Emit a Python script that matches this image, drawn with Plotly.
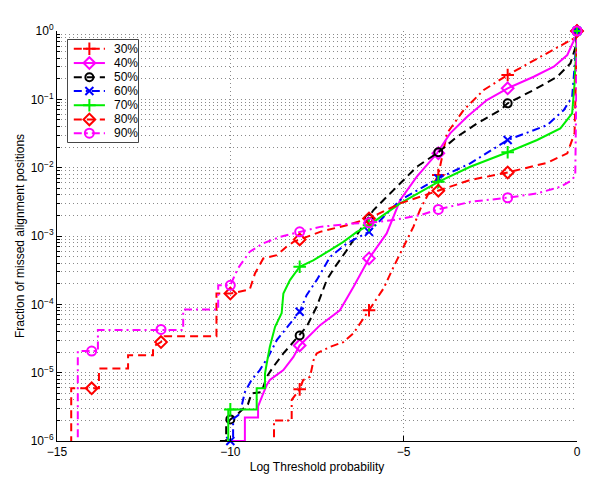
import plotly.graph_objects as go

# ---------------- data ----------------
labels = ["30%", "40%", "50%", "60%", "70%", "80%", "90%"]

x30 = [-8.74, -8.74, -8.23, -8.23, -8.0, -7.9, -7.7, -7.6, -7.51, -7.12, -6.74, -6.45, -6.0, -5.58, -5.29, -5.0, -4.72, -4.52, -4.0, -3.75, -3.27, -2.69, -2.0, -1.05, -0.09, 0.0]
y30 = [1e-7, 2.0e-6, 2.0e-6, 4.0e-6, 5.7e-6, 7.8e-6, 8.7e-6, 1.52e-5, 1.91e-5, 2.39e-5, 2.8e-5, 3.75e-5, 8.2e-5, 1.71e-4, 3.54e-4, 6.95e-4, 1.36e-3, 2.48e-3, 7.8e-3, 0.0318, 0.0697, 0.137, 0.227, 0.42, 0.78, 1.0]
mx30 = [-8, -6, -4, -2, 0]
my30 = [5.7e-6, 8.2e-5, 7.8e-3, 0.227, 1.0]

x40 = [-10.0, -10.0, -9.58, -9.58, -9.2, -9.2, -9.05, -8.95, -8.86, -8.47, -8.18, -8.0, -7.41, -6.84, -6.45, -6.0, -5.49, -5.1, -4.62, -4.04, -3.66, -3.17, -2.6, -2.0, -1.25, -0.67, -0.28, -0.04, 0.0]
y40 = [1e-7, 1e-6, 1e-6, 2.2e-6, 2.2e-6, 3.2e-6, 4.96e-6, 6.6e-6, 7.8e-6, 1.09e-5, 1.7e-5, 2.5e-5, 4.96e-5, 8.2e-5, 1.8e-4, 4.7e-4, 1.09e-3, 3.36e-3, 7.4e-3, 0.0162, 0.0318, 0.0556, 0.0977, 0.145, 0.214, 0.3, 0.445, 0.826, 1.0]
mx40 = [-8, -6, -4, -2, 0]
my40 = [2.5e-5, 4.7e-4, 0.0162, 0.145, 1.0]

x50 = [-10.3, -10.12, -10.12, -10.0, -9.82, -9.49, -9.39, -9.1, -8.95, -8.76, -8.47, -8.0, -7.8, -7.51, -7.22, -6.98, -6.64, -6.26, -5.87, -5.58, -5.1, -4.62, -4.0, -3.46, -2.88, -2.21, -2.0, -1.25, -0.57, -0.19, -0.04, 0.0]
y50 = [1e-6, 1e-6, 1.7e-6, 2.07e-6, 2.39e-6, 3.46e-6, 4.96e-6, 5.2e-6, 8.7e-6, 1.22e-5, 1.91e-5, 3.5e-5, 4.7e-5, 9.2e-5, 2.26e-4, 3.54e-4, 6.2e-4, 1.22e-3, 2.4e-3, 3.36e-3, 5.9e-3, 0.0103, 0.0168, 0.0283, 0.0445, 0.0697, 0.0873, 0.137, 0.214, 0.336, 0.589, 1.0]
mx50 = [-10, -8, -6, -4, -2, 0]
my50 = [2.07e-6, 3.5e-5, 1.8e-3, 0.0168, 0.0873, 1.0]

x60 = [-9.92, -9.92, -9.77, -9.68, -9.58, -9.39, -9.15, -8.91, -8.66, -8.0, -7.8, -7.51, -7.12, -6.64, -6.0, -5.1, -4.0, -3.08, -2.0, -0.86, -0.38, -0.14, -0.07, 0.0]
y60 = [1e-7, 2.1e-6, 2.39e-6, 3.16e-6, 5.2e-6, 7.8e-6, 1.09e-5, 1.7e-5, 2.99e-5, 7.8e-5, 1.36e-4, 2.26e-4, 4.96e-4, 7.8e-4, 1.15e-3, 3.36e-3, 6.97e-3, 0.01156, 0.0254, 0.042, 0.0697, 0.109, 0.3, 1.0]
mx60 = [-10, -8, -6, -4, -2, 0]
my60 = [1e-6, 7.8e-5, 1.15e-3, 6.97e-3, 0.0254, 1.0]

x70 = [-10.06, -10.06, -9.24, -9.24, -9.0, -9.0, -8.95, -8.86, -8.71, -8.52, -8.47, -8.28, -8.0, -7.61, -7.12, -6.74, -6.35, -6.0, -5.1, -4.0, -3.08, -2.0, -1.15, -0.48, -0.14, -0.07, 0.0]
y70 = [1e-7, 2.9e-6, 2.9e-6, 5.9e-6, 5.9e-6, 9.7e-6, 1.36e-5, 2.39e-5, 4.7e-5, 7.4e-5, 1.44e-4, 2.26e-4, 3.55e-4, 4.4e-4, 6.2e-4, 8.2e-4, 1.15e-3, 1.44e-3, 3.0e-3, 6.2e-3, 0.0103, 0.0168, 0.0254, 0.0376, 0.0624, 0.171, 1.0]
mx70 = [-10, -8, -6, -4, -2, 0]
my70 = [2.9e-6, 3.55e-4, 1.44e-3, 6.2e-3, 0.0168, 1.0]

x80 = [-14.59, -14.59, -13.79, -13.79, -12.95, -12.95, -12.23, -12.23, -12.0, -11.9, -10.4, -10.4, -10.0, -9.44, -9.29, -9.05, -8.66, -8.38, -8.18, -8.0, -7.41, -6.64, -6.0, -5.1, -4.0, -3.08, -2.0, -0.86, -0.28, -0.07, 0.0]
y80 = [1e-7, 5.9e-6, 5.9e-6, 1.15e-5, 1.15e-5, 1.8e-5, 1.8e-5, 2.4e-5, 2.8e-5, 3.4e-5, 3.4e-5, 1.44e-4, 1.44e-4, 1.65e-4, 2.83e-4, 4.7e-4, 5.25e-4, 6.95e-4, 8.2e-4, 8.9e-4, 1.15e-3, 1.44e-3, 1.81e-3, 3.0e-3, 4.6e-3, 6.6e-3, 8.5e-3, 0.0118, 0.0162, 0.032, 1.0]
mx80 = [-14, -12, -10, -8, -6, -4, -2, 0]
my80 = [5.9e-6, 2.8e-5, 1.44e-4, 8.9e-4, 1.81e-3, 4.6e-3, 8.5e-3, 1.0]

x90 = [-14.4, -14.4, -13.82, -13.82, -11.36, -11.36, -10.35, -10.35, -10.0, -9.78, -9.44, -9.05, -8.57, -8.0, -7.41, -6.45, -6.0, -5.29, -4.52, -4.0, -3.08, -2.0, -1.15, -0.48, -0.14, -0.05, 0.0]
y90 = [1e-7, 2.07e-5, 2.07e-5, 4.2e-5, 4.2e-5, 8.4e-5, 8.4e-5, 1.9e-4, 1.9e-4, 3.36e-4, 5.9e-4, 7.8e-4, 9.7e-4, 1.15e-3, 1.36e-3, 1.53e-3, 1.56e-3, 1.71e-3, 2.02e-3, 2.45e-3, 3.16e-3, 3.63e-3, 4.2e-3, 5.25e-3, 6.6e-3, 7.8e-3, 1.0]
mx90 = [-14, -12, -10, -8, -6, -4, -2, 0]
my90 = [2.07e-5, 4.3e-5, 1.9e-4, 1.15e-3, 1.56e-3, 2.45e-3, 3.63e-3, 1.0]

x_ticks = [-15, -10, -5, 0]
x_ticktext = ["\u221215", "\u221210", "\u22125", "0"]
y_ticks = [1e-6, 1e-5, 1e-4, 1e-3, 1e-2, 1e-1, 1]
y_ticktext = ["10<sup>\u22126</sup>", "10<sup>\u22125</sup>", "10<sup>\u22124</sup>", "10<sup>\u22123</sup>",
              "10<sup>\u22122</sup>", "10<sup>\u22121</sup>", "10<sup>0</sup>"]

# ---------------- styles ----------------
DASH = "8px,5px"
DASHDOT = "8px,4px,2px,4px"
styles = [
    dict(color="#ff0000", dash=DASHDOT, symbol="cross-thin-open", size=9),
    dict(color="#ff00ff", dash="solid", symbol="diamond-open", size=9),
    dict(color="#000000", dash=DASH, symbol="circle-open", size=8),
    dict(color="#0000ff", dash=DASHDOT, symbol="x-thin-open", size=8),
    dict(color="#00ee00", dash="solid", symbol="cross-thin-open", size=9),
    dict(color="#ff0000", dash=DASH, symbol="diamond-open", size=9),
    dict(color="#ff00ff", dash=DASHDOT, symbol="circle-open", size=9),
]
series = [(x30, y30, mx30, my30), (x40, y40, mx40, my40), (x50, y50, mx50, my50),
          (x60, y60, mx60, my60), (x70, y70, mx70, my70), (x80, y80, mx80, my80),
          (x90, y90, mx90, my90)]

FONT = "Liberation Sans, Arial, sans-serif"
fig = go.Figure()

for (xs, ys, mxs, mys), st in zip(series, styles):
    fig.add_trace(go.Scatter(x=xs, y=ys, mode="lines", showlegend=False,
                             line=dict(color=st["color"], width=2, dash=st["dash"]),
                             hoverinfo="skip"))
    fig.add_trace(go.Scatter(x=mxs, y=mys, mode="markers", showlegend=False, cliponaxis=False,
                             marker=dict(symbol=st["symbol"], size=st["size"], color=st["color"],
                                         line=dict(color=st["color"], width=2)),
                             hoverinfo="skip"))

# ---------------- custom legend (own small subplot) ----------------
leg_rows = [9, 23.5, 38, 52, 66.5, 81, 95]
fig.add_trace(go.Scatter(x=[-0.5, 72.5, 72.5, -0.5, -0.5], y=[-0.5, -0.5, 104.5, 104.5, -0.5],
                         xaxis="x2", yaxis="y2", mode="lines", fill="toself",
                         fillcolor="white", line=dict(color="#444444", width=1),
                         showlegend=False, hoverinfo="skip"))
for lab, st, ry in zip(labels, styles, leg_rows):
    fig.add_trace(go.Scatter(x=[6, 38], y=[ry, ry], xaxis="x2", yaxis="y2", mode="lines",
                             line=dict(color=st["color"], width=2, dash=st["dash"]),
                             showlegend=False, hoverinfo="skip"))
    fig.add_trace(go.Scatter(x=[22], y=[ry], xaxis="x2", yaxis="y2", mode="markers",
                             marker=dict(symbol=st["symbol"], size=st["size"], color=st["color"],
                                         line=dict(color=st["color"], width=2)),
                             showlegend=False, hoverinfo="skip"))
    fig.add_annotation(x=45, y=ry, xref="x2", yref="y2", text=lab, showarrow=False,
                       xanchor="left", yanchor="middle",
                       font=dict(family=FONT, size=12, color="black"))

grid_color = "#8a8a8a"
fig.update_layout(
    width=600, height=479,
    margin=dict(l=57, r=23, t=31, b=38, autoexpand=False),
    paper_bgcolor="white", plot_bgcolor="white",
    showlegend=False,
    font=dict(family=FONT, size=12, color="black"),
    xaxis=dict(range=[-15, 0], tickmode="array", tickvals=x_ticks, ticktext=x_ticktext,
               automargin=False,
               showgrid=True, gridcolor=grid_color, griddash="1px,3px", gridwidth=1,
               zeroline=False, showline=True, linecolor="black", linewidth=1,
               ticks="inside", ticklen=5, tickcolor="black",
               tickfont=dict(size=12),
               title=dict(text="Log Threshold probability", font=dict(size=12), standoff=4)),
    yaxis=dict(type="log", range=[-6, 0], tickmode="array", tickvals=y_ticks, ticktext=y_ticktext,
               automargin=False,
               showgrid=True, gridcolor=grid_color, griddash="1px,3px", gridwidth=1,
               zeroline=False, showline=True, linecolor="black", linewidth=1,
               ticks="inside", ticklen=5, tickcolor="black",
               tickfont=dict(size=12),
               minor=dict(tickmode="array",
                          tickvals=[k * 10.0 ** e for e in range(-6, 0) for k in range(2, 10)],
                          showgrid=True, gridcolor=grid_color, griddash="1px,3px", gridwidth=1,
                          ticks="inside", ticklen=3, tickcolor="black"),
               title=dict(text="Fraction of missed alignment positions", font=dict(size=12), standoff=3)),
    xaxis2=dict(domain=[0.0192, 0.1577], range=[-1, 73], anchor="y2", visible=False,
                fixedrange=True, automargin=False),
    yaxis2=dict(domain=[0.7268, 0.9805], range=[105, -1], anchor="x2", visible=False,
                fixedrange=True, automargin=False),
)

fig.write_html("out.html",
               config={"displayModeBar": False},
               post_script="document.body.style.margin='0';document.body.style.overflow='hidden';")
